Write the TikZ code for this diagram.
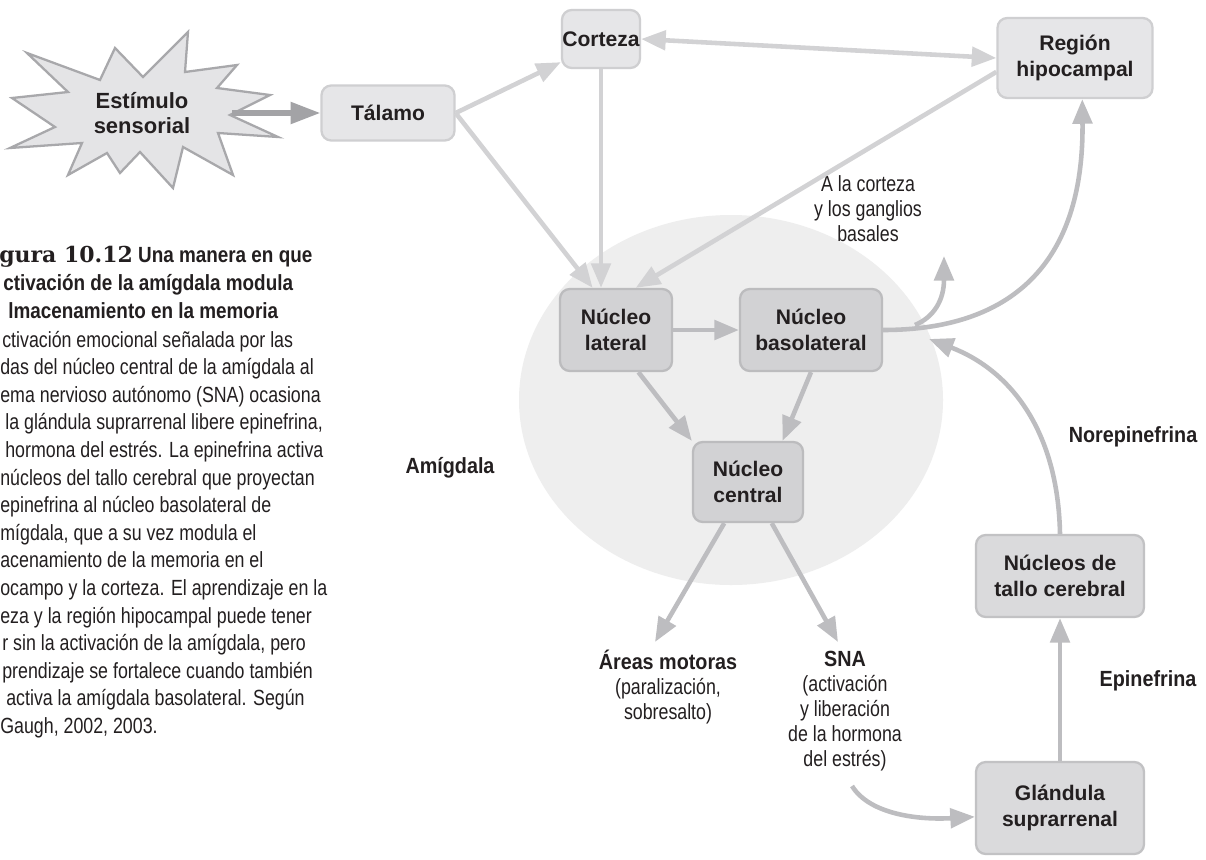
\documentclass[tikz,border=0pt]{standalone}
\usepackage{fontspec}
\setmainfont{Liberation Sans}
\newfontfamily\capfont[FakeStretch=0.81]{Liberation Sans}
\newfontfamily\lblfont[FakeStretch=0.9]{Liberation Sans}
\newfontfamily\ttlfont[FakeStretch=0.86]{Liberation Sans}
\newfontfamily\figfont{DejaVu Serif}
\usetikzlibrary{arrows.meta}
\definecolor{ink}{HTML}{231F20}
\definecolor{outerfill}{HTML}{E6E6E8}
\definecolor{outerdraw}{HTML}{CFCFD1}
\definecolor{amyfill}{HTML}{D2D2D4}
\definecolor{amydraw}{HTML}{BCBCBE}
\definecolor{lowfill}{HTML}{DADADC}
\definecolor{lowdraw}{HTML}{C2C2C4}
\definecolor{ellfill}{HTML}{EEEEEE}
\definecolor{lightarr}{HTML}{D2D2D4}
\definecolor{midarr}{HTML}{BDBDC0}
\definecolor{darkarr}{HTML}{A3A3A6}
\definecolor{starfill}{HTML}{E4E4E6}
\definecolor{stardraw}{HTML}{A8A8AB}
\tikzset{
  boxbase/.style={rounded corners=5.5pt, line width=1.3pt, align=center, inner sep=0pt,
    text=ink, font=\bfseries\fontsize{12}{14.5}\selectfont},
  outerbox/.style={boxbase, fill=outerfill, draw=outerdraw},
  amybox/.style={boxbase, fill=amyfill, draw=amydraw},
  lowbox/.style={boxbase, fill=lowfill, draw=lowdraw},
  tipshape/.style={-{Triangle[length=14pt,width=11pt]}},
  lightarrow/.style={tipshape, line width=2.6pt, color=lightarr},
  midarrow/.style={tipshape, line width=2.6pt, color=midarr},
  darkarrow/.style={-{Triangle[length=17pt,width=12pt]}, line width=3pt, color=darkarr},
  boldlbl/.style={text=ink, font=\lblfont\bfseries\fontsize{12.5}{14.5}\selectfont, align=center, inner sep=0pt},
  plainlbl/.style={text=ink, font=\capfont\fontsize{12.5}{14.2}\selectfont, align=center, inner sep=0pt},
  capline/.style={anchor=base west, inner sep=0pt, text=ink, font=\capfont\fontsize{12.5}{15}\selectfont},
  captitle/.style={anchor=base west, inner sep=0pt, text=ink, font=\ttlfont\bfseries\fontsize{12.5}{15}\selectfont},
}
\begin{document}
\begin{tikzpicture}[x=0.02cm,y=-0.02cm]
\useasboundingbox (0,0) rectangle (1206,859);
\fill[white] (0,0) rectangle (1206,859);

% amygdala ellipse
\fill[ellfill] (731,400) ellipse (212 and 185);

% star
\draw[fill=starfill, draw=stardraw, line width=1.3pt, line join=miter]
  (27,53) -- (100,80) -- (115,48) -- (143,77) -- (188,32) -- (185,72) -- (237,65)
  -- (217,88) -- (270,95) -- (230,115) -- (278,137) -- (218,133) -- (233,175)
  -- (183,147) -- (173,188) -- (140,152) -- (120,173) -- (107,153) -- (68,175)
  -- (82,143) -- (10,148) -- (55,127) -- (12,98) -- (68,92) -- cycle;
\node[text=ink, font=\bfseries\fontsize{12.5}{14.5}\selectfont, align=center, inner sep=0pt] (est) at (142,113) {Estímulo\\sensorial};
\coordinate (starR) at (232,113);

% boxes
\node[outerbox, minimum width=2.66cm, minimum height=1.1cm] (tal) at (388,113) {Tálamo};
\node[outerbox, minimum width=1.56cm, minimum height=1.16cm] (cor) at (601,39) {Corteza};
\node[outerbox, minimum width=3.1cm, minimum height=1.6cm] (hip) at (1075,58) {Región\\hipocampal};
\node[amybox, minimum width=2.24cm, minimum height=1.64cm] (lat) at (616,330) {Núcleo\\lateral};
\node[amybox, minimum width=2.84cm, minimum height=1.64cm] (bas) at (811,330) {Núcleo\\basolateral};
\node[amybox, minimum width=2.2cm, minimum height=1.6cm] (cen) at (748,482) {Núcleo\\central};
\node[lowbox, minimum width=3.36cm, minimum height=1.64cm] (tallo) at (1060,576) {Núcleos de\\tallo cerebral};
\node[lowbox, minimum width=3.36cm, minimum height=1.84cm] (gla) at (1060,808) {Glándula\\suprarrenal};

% labels
\node[boldlbl] (amlbl) at (450,468) {Amígdala};
\node[plainlbl] (acor) at (868,209) {A la corteza\\y los ganglios\\basales};
\node[boldlbl] (nor) at (1133,437) {Norepinefrina};
\node[boldlbl] (epi) at (1148,681) {Epinefrina};
\node[plainlbl] (areas) at (668,687) {{\lblfont\bfseries Áreas motoras}\\(paralización,\\sobresalto)};
\node[plainlbl] (sna) at (845,711) {{\lblfont\bfseries SNA}\\(activación\\y liberación\\de la hormona\\del estrés)};

% free ends
\coordinate (br) at (915,325);
\coordinate (brtip) at (944,256);
\coordinate (nortip) at (929,339);
\coordinate (artip) at (655,642);
\coordinate (snatip) at (838,642);
\coordinate (snaout) at (852,786);

% connectors
\draw[darkarrow] (starR) -- (tal.west);
\draw[lightarrow] (tal.east) -- (cor.210);
\draw[lightarrow] (tal.east) -- (lat.119);
\draw[lightarrow] (cor.south) -- (cor.south |- lat.north);
\draw[lightarrow, {Triangle[length=14pt,width=11pt]}-{Triangle[length=14pt,width=11pt]}] (cor.east) -- (hip.west);
\draw[lightarrow] (hip.190) -- (lat.65);
\draw[midarrow] (lat.east) -- (bas.west);
\draw[midarrow] (lat.-62) -- (cen.north west);
\draw[midarrow] (bas.south) -- (cen.50);
\draw[midarrow] (bas.east) .. controls (1010,330) and (1084,265) .. (hip.-80);
\draw[midarrow] (br) .. controls (934,317) and (944,300) .. (brtip);
\draw[midarrow] (tallo.north) .. controls (1058,430) and (1010,370) .. (nortip);
\draw[midarrow] (cen.-120) -- (artip);
\draw[midarrow] (cen.-60) -- (snatip);
\draw[midarrow] (snaout) .. controls (870,815) and (920,820) .. ([yshift=-5pt]gla.west);
\draw[midarrow] (gla.north) -- (tallo.south);

% caption
\node[captitle] (t1) at (-1,262) {{\figfont\bfseries gura 10.12} Una manera en que};
\node[captitle] (t2) at (3,290) {ctivación de la amígdala modula};
\node[captitle] (t3) at (8,318) {lmacenamiento en la memoria};
\node[capline] (c1) at (2,347) {ctivación emocional señalada por las};
\node[capline] (c2) at (0,374.6) {das del núcleo central de la amígdala al};
\node[capline] (c3) at (0,402.2) {ema nervioso autónomo (SNA) ocasiona};
\node[capline] (c4) at (5,429.8) {la glándula suprarrenal libere epinefrina,};
\node[capline] (c5) at (5,457.4) {hormona del estrés. La epinefrina activa};
\node[capline] (c6) at (0,485) {núcleos del tallo cerebral que proyectan};
\node[capline] (c7) at (0,512.6) {epinefrina al núcleo basolateral de};
\node[capline] (c8) at (0,540.2) {mígdala, que a su vez modula el};
\node[capline] (c9) at (0,567.8) {acenamiento de la memoria en el};
\node[capline] (c10) at (0,595.4) {ocampo y la corteza. El aprendizaje en la};
\node[capline] (c11) at (0,623) {eza y la región hipocampal puede tener};
\node[capline] (c12) at (2,650.6) {r sin la activación de la amígdala, pero};
\node[capline] (c13) at (2,678.2) {prendizaje se fortalece cuando también};
\node[capline] (c14) at (6,705.8) {activa la amígdala basolateral. Según};
\node[capline] (c15) at (0,733.4) {Gaugh, 2002, 2003.};
\end{tikzpicture}
\end{document}
